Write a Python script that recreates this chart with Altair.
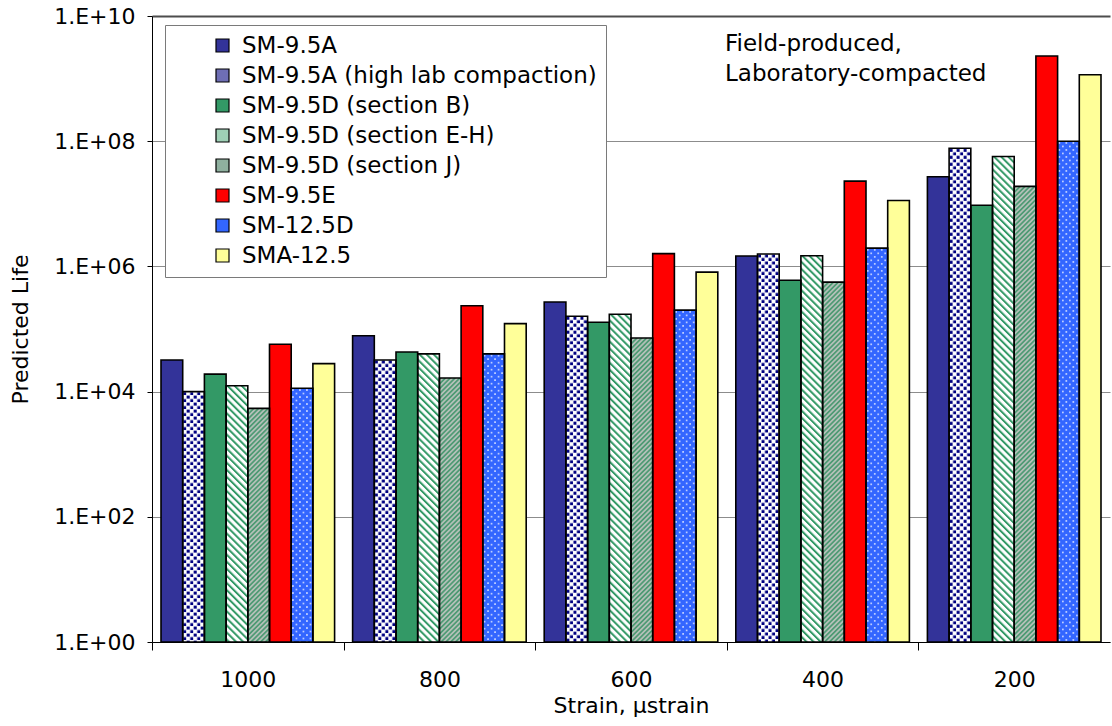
import base64
import altair as alt
import pandas as pd

# ---------------- data ----------------
strains = ["1000", "800", "600", "400", "200"]
series = [
    "SM-9.5A",
    "SM-9.5A (high lab compaction)",
    "SM-9.5D (section B)",
    "SM-9.5D (section E-H)",
    "SM-9.5D (section J)",
    "SM-9.5E",
    "SM-12.5D",
    "SMA-12.5",
]
sm95a = [3.2e4, 7.8e4, 2.7e5, 1.47e6, 2.7e7]
sm95a_hi = [1.0e4, 3.2e4, 1.6e5, 1.58e6, 7.7e7]
sm95d_b = [1.9e4, 4.3e4, 1.28e5, 6.0e5, 9.5e6]
sm95d_eh = [1.24e4, 4.0e4, 1.72e5, 1.48e6, 5.7e7]
sm95d_j = [5.4e3, 1.65e4, 7.2e4, 5.6e5, 1.9e7]
sm95e = [5.7e4, 2.35e5, 1.6e6, 2.3e7, 2.3e9]
sm125d = [1.13e4, 4.0e4, 2.0e5, 1.96e6, 1.0e8]
sma125 = [2.8e4, 1.22e5, 8.1e5, 1.13e7, 1.15e9]
values = [sm95a, sm95a_hi, sm95d_b, sm95d_eh, sm95d_j, sm95e, sm125d, sma125]

y_ticks = [1e0, 1e2, 1e4, 1e6, 1e8, 1e10]
note_lines = ["Field-produced,", "Laboratory-compacted"]

# ---------------- styling ----------------
colors = ["#333399", "#6e6eb4", "#339966", "#9fd0b6", "#8fb09f",
          "#ff0000", "#3366ff", "#ffff99"]
FONT = "DejaVu Sans"
PLOT_W, PLOT_H = 958, 626
HALF_STEP = PLOT_W / len(strains) / 2


def svg_uri(pattern_body):
    svg = ('<svg xmlns="http://www.w3.org/2000/svg"><defs>' + pattern_body +
           '</defs><rect width="100%" height="100%" fill="url(#p)"/></svg>')
    return "data:image/svg+xml;base64," + base64.b64encode(svg.encode()).decode()


patterns = {
    "SM-9.5A (high lab compaction)": svg_uri(
        '<pattern id="p" patternUnits="userSpaceOnUse" width="7" height="7">'
        '<rect width="7" height="7" fill="#ffffff"/>'
        '<rect x="0.5" y="0.5" width="3" height="3" fill="#000080"/>'
        '<rect x="4" y="4" width="3" height="3" fill="#000080"/></pattern>'),
    "SM-9.5D (section E-H)": svg_uri(
        '<pattern id="p" patternUnits="userSpaceOnUse" width="5" height="5" '
        'patternTransform="rotate(-45)">'
        '<rect width="5" height="5" fill="#ffffff"/>'
        '<rect width="2" height="5" fill="#339966"/></pattern>'),
    "SM-9.5D (section J)": svg_uri(
        '<pattern id="p" patternUnits="userSpaceOnUse" width="3.4" height="3.4" '
        'patternTransform="rotate(45)">'
        '<rect width="3.4" height="3.4" fill="#b3c0b8"/>'
        '<rect width="1.7" height="3.4" fill="#4f9a74"/></pattern>'),
    "SM-12.5D": svg_uri(
        '<pattern id="p" patternUnits="userSpaceOnUse" width="7" height="7">'
        '<rect width="7" height="7" fill="#3366ff"/>'
        '<circle cx="1.75" cy="1.75" r="0.9" fill="#e6ecff"/>'
        '<circle cx="5.25" cy="5.25" r="0.9" fill="#e6ecff"/></pattern>'),
}

rows = []
for s, vals in zip(series, values):
    for st, v in zip(strains, vals):
        rows.append({"strain": st, "series": s, "life": v})
df = pd.DataFrame(rows)

x_enc = alt.X("strain:N", sort=strains,
              scale=alt.Scale(domain=strains, paddingInner=0.094, paddingOuter=0.047),
              axis=alt.Axis(title="Strain, \u03bcstrain", labelAngle=0,
                            tickOffset=-HALF_STEP, labelOffset=HALF_STEP,
                            tickSize=8, tickWidth=1, labelPadding=36,
                            labelBaseline="alphabetic",
                            titleY=70, titleBaseline="alphabetic",
                            domainColor="black", tickColor="black", grid=False))
xo_enc = alt.XOffset("series:N", sort=series,
                     scale=alt.Scale(domain=series, paddingInner=0, paddingOuter=0))
y_enc = alt.Y("life:Q",
              scale=alt.Scale(type="log", domain=[1, 1e10]),
              axis=alt.Axis(title="Predicted Life", values=y_ticks,
                            labelExpr="'1.E+' + (round(log(datum.value)/LN10) < 10 ? '0' : '') + round(log(datum.value)/LN10)",
                            tickSize=5, labelPadding=12, grid=True,
                            gridColor={"condition": {"test": "datum.value >= 1e10", "value": "#4d4d4d"},
                                       "value": "#8c8c8c"},
                            gridWidth={"condition": {"test": "datum.value >= 1e10", "value": 2},
                                       "value": 1.2},
                            domainColor="black", tickColor="black",
                            titleX=-125, titleBaseline="alphabetic"))
y2_enc = alt.Y2(datum=1)

base = alt.Chart(df)

bars = base.mark_bar(strokeWidth=0).encode(
    x=x_enc, xOffset=xo_enc, y=y_enc, y2=y2_enc,
    color=alt.Color("series:N", sort=series,
                    scale=alt.Scale(domain=series, range=colors),
                    legend=alt.Legend(title=None, orient="none", legendX=13, legendY=9,
                                      direction="vertical", fillColor="white",
                                      strokeColor="#7a7a7a", padding=9,
                                      symbolType="square", symbolSize=169,
                                      symbolStrokeColor="black", symbolStrokeWidth=1.2,
                                      symbolOffset=37, labelOffset=8, rowPadding=6,
                                      labelFontSize=23, labelFont=FONT, labelColor="black",
                                      labelLimit=600)),
)

pattern_layers = []
for name, uri in patterns.items():
    pattern_layers.append(
        base.transform_filter(alt.datum.series == name).mark_image(aspect=False).encode(
            x=x_enc, xOffset=xo_enc, y=y_enc, y2=y2_enc, url=alt.value(uri))
    )

outlines = base.mark_bar(fillOpacity=0, stroke="black", strokeWidth=1.6).encode(
    x=x_enc, xOffset=xo_enc, y=y_enc, y2=y2_enc)

note = alt.Chart(pd.DataFrame({"t": [0]})).mark_text(
    align="left", baseline="alphabetic", fontSize=23, font=FONT, color="black",
    lineHeight=30).encode(
    x=alt.value(573), y=alt.value(35), text=alt.value(note_lines))

chart = alt.layer(bars, *pattern_layers, outlines, note).properties(
    width=PLOT_W, height=PLOT_H,
    autosize=alt.AutoSizeParams(type="none"),
    padding={"left": 152, "top": 16, "right": 2, "bottom": 84},
    background="white",
).configure_view(strokeWidth=0).configure_axis(
    labelFont=FONT, titleFont=FONT, labelFontSize=22, titleFontSize=22,
    labelColor="black", titleColor="black", titleFontWeight="normal",
)

chart.save("out.html", embed_options={"renderer": "svg", "actions": False})
